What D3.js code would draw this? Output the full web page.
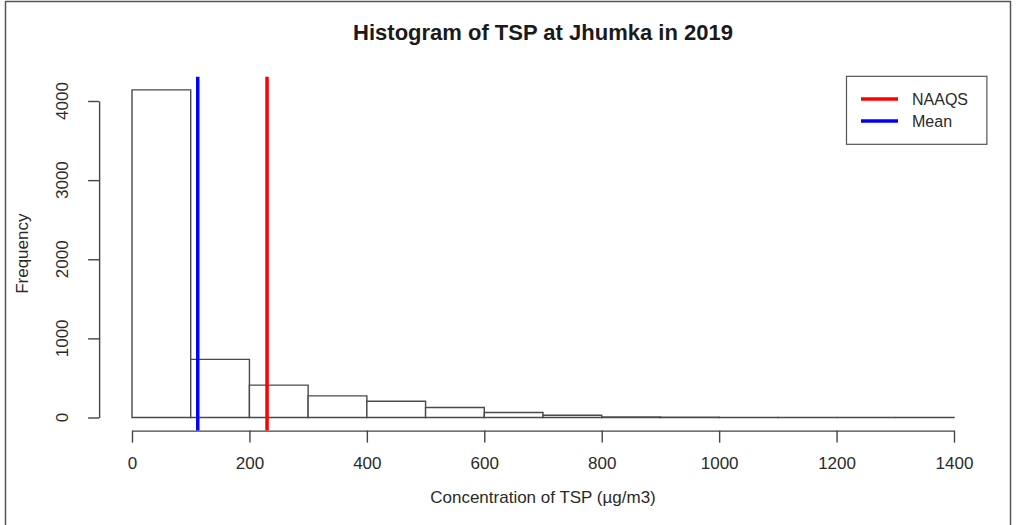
<!DOCTYPE html>
<html>
<head>
<meta charset="utf-8">
<script src="https://cdn.jsdelivr.net/npm/d3@7"></script>
<style>
  html, body { margin: 0; padding: 0; background: #fff; }
  svg { display: block; font-family: "Liberation Sans", Arial, sans-serif; }
</style>
</head>
<body>
<svg id="chart" width="1018" height="525"></svg>
<script>
// ---- data ----
const binStarts = [0, 100, 200, 300, 400, 500, 600, 700, 800, 900, 1000, 1100, 1200, 1300];
const binWidth = 100;
const counts = [4140, 735, 409, 273, 206, 126, 63, 29, 6, 3, 2, 1, 0, 1];
const xTicks = [0, 200, 400, 600, 800, 1000, 1200, 1400];
const yTicks = [0, 1000, 2000, 3000, 4000];
const meanValue = 112;
const naaqsValue = 230;
const legendLabels = ["NAAQS", "Mean"];
const legendColors = ["#ff0000", "#0000ff"];
const titleText = "Histogram of TSP at Jhumka in 2019";
const xLabel = "Concentration of TSP (\u00b5g/m3)";
const yLabel = "Frequency";

// ---- layout ----
const svg = d3.select("#chart");
const x = d3.scaleLinear().domain([0, 1400]).range([132, 954]);
const y = d3.scaleLinear().domain([0, 4000]).range([417.5, 101]);
const yMax = d3.max(counts);
// R-style plot region: 4% extension
const xLo = x(-0.04 * 1400), xHi = x(1400 * 1.04);
const yLo = y(-0.04 * yMax), yHi = y(yMax * 1.04);

const axisColor = "#444";
const textColor = "#2a2a2a";

// outer frame
svg.append("rect")
  .attr("x", 5.5).attr("y", 1.5)
  .attr("width", 1005).attr("height", 540)
  .attr("fill", "none").attr("stroke", "#555").attr("stroke-width", 1.5);

// bars (drawn as closed paths so empty bins still show their outline)
svg.append("g").selectAll("path")
  .data(binStarts.map((s, i) => ({ s, c: counts[i] })))
  .join("path")
  .attr("d", d => {
    const x0 = x(d.s), x1 = x(d.s + binWidth), y0 = y(0), y1 = y(d.c);
    return `M${x0},${y0}L${x0},${y1}L${x1},${y1}L${x1},${y0}Z`;
  })
  .attr("fill", "#fff")
  .attr("stroke", "#4a4a4a")
  .attr("stroke-width", 1.4);

// x axis
const xAxis = svg.append("g")
  .attr("transform", `translate(0,${yLo})`)
  .call(d3.axisBottom(x).tickValues(xTicks).tickFormat(d3.format("d"))
    .tickSize(12).tickSizeOuter(0).tickPadding(14));
xAxis.select(".domain").attr("stroke", axisColor).attr("stroke-width", 1.4);
xAxis.selectAll(".tick line").attr("stroke", axisColor).attr("stroke-width", 1.4);
xAxis.selectAll(".tick text")
  .attr("font-size", 17).attr("fill", textColor)
  .attr("font-family", "'Liberation Sans', Arial, sans-serif");

// y axis
const yAxis = svg.append("g")
  .attr("transform", `translate(${xLo},0)`)
  .call(d3.axisLeft(y).tickValues(yTicks).tickSize(11).tickSizeOuter(0).tickFormat(() => ""));
yAxis.select(".domain").attr("stroke", axisColor).attr("stroke-width", 1.4);
yAxis.selectAll(".tick line").attr("stroke", axisColor).attr("stroke-width", 1.4);
svg.append("g").selectAll("text")
  .data(yTicks)
  .join("text")
  .attr("transform", d => `translate(${xLo - 31},${y(d)}) rotate(-90)`)
  .attr("text-anchor", "middle")
  .attr("font-size", 17).attr("fill", textColor)
  .text(d => d3.format("d")(d));

// vertical reference lines
svg.append("line")
  .attr("x1", x(meanValue)).attr("x2", x(meanValue))
  .attr("y1", yHi).attr("y2", yLo)
  .attr("stroke", legendColors[1]).attr("stroke-width", 3.5);
svg.append("line")
  .attr("x1", x(naaqsValue)).attr("x2", x(naaqsValue))
  .attr("y1", yHi).attr("y2", yLo)
  .attr("stroke", legendColors[0]).attr("stroke-width", 3.5);

// title
svg.append("text")
  .attr("x", (xLo + xHi) / 2).attr("y", 40)
  .attr("text-anchor", "middle")
  .attr("font-size", 22).attr("font-weight", "bold").attr("fill", "#1a1a1a")
  .text(titleText);

// axis labels
svg.append("text")
  .attr("x", (xLo + xHi) / 2).attr("y", 503)
  .attr("text-anchor", "middle")
  .attr("font-size", 17).attr("fill", textColor)
  .text(xLabel);
svg.append("text")
  .attr("transform", `translate(28,${(yLo + yHi) / 2}) rotate(-90)`)
  .attr("text-anchor", "middle")
  .attr("font-size", 17).attr("fill", textColor)
  .text(yLabel);

// legend
const lg = svg.append("g");
lg.append("rect")
  .attr("x", 846.5).attr("y", yHi - 0.5)
  .attr("width", xHi - 846.5).attr("height", 68)
  .attr("fill", "#fff").attr("stroke", "#555").attr("stroke-width", 1.2);
legendLabels.forEach((lab, i) => {
  const ly = 99 + i * 22;
  lg.append("line")
    .attr("x1", 861).attr("x2", 898)
    .attr("y1", ly).attr("y2", ly)
    .attr("stroke", legendColors[i]).attr("stroke-width", 3.5);
  lg.append("text")
    .attr("x", 912).attr("y", ly + 5.5)
    .attr("font-size", 16).attr("fill", textColor)
    .text(lab);
});
</script>
</body>
</html>
